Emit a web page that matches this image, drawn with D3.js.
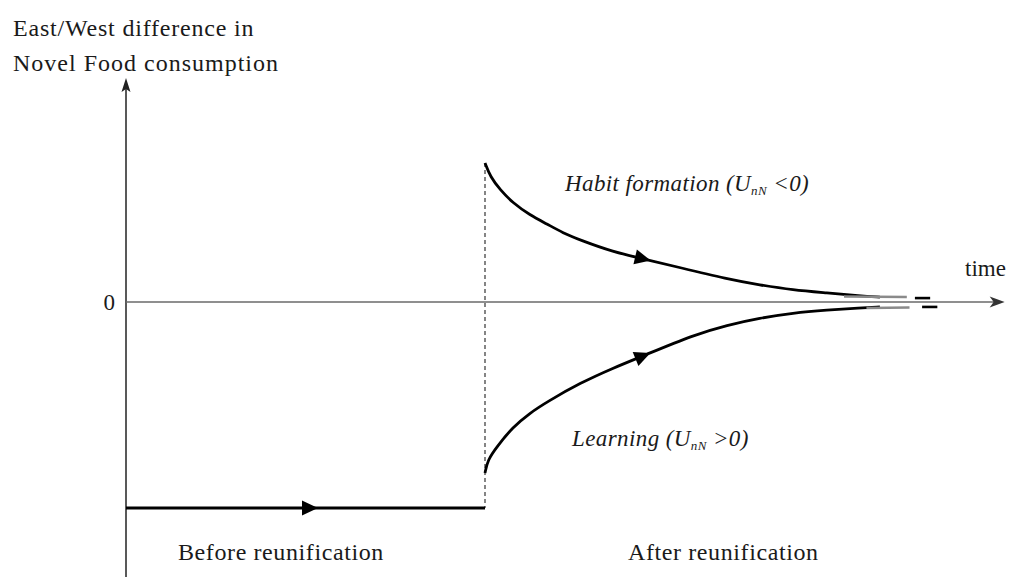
<!DOCTYPE html>
<html>
<head>
<meta charset="utf-8">
<script src="https://cdn.jsdelivr.net/npm/d3@7"></script>
<style>
  body { margin: 0; background: #fff; }
  svg { display: block; }
  text { font-family: "Liberation Serif", "DejaVu Serif", serif; fill: #1a1a1a; }
</style>
</head>
<body>
<svg width="1010" height="577"></svg>
<script>
// time runs 0..10, reunification at t = 4; value 0 = no East/West gap
var reunifT = 4;
var axisEndT = 9.79;
var axisTopV = 1.087, axisBottomV = -1.335;

var beforeT = [0, 4];
var beforeV = [-1, -1];

var habitT = [4.0, 4.06, 4.17, 4.31, 4.50, 4.69, 4.87, 5.06, 5.43, 5.76, 6.17, 6.70, 7.06, 7.43, 7.81, 8.18, 8.40];
var habitV = [0.675, 0.607, 0.544, 0.481, 0.422, 0.379, 0.335, 0.301, 0.243, 0.210, 0.167, 0.112, 0.083, 0.058, 0.044, 0.029, 0.024];
var habitTailT = [8.0, 8.70];
var habitTailV = [0.027, 0.024];
var habitDashT = [8.79, 8.96];
var habitDashV = [0.019, 0.019];

var learnT = [4.0, 4.03, 4.13, 4.31, 4.50, 4.69, 5.06, 5.43, 5.76, 6.32, 6.70, 7.06, 7.43, 7.81, 8.18, 8.40];
var learnV = [-0.830, -0.767, -0.704, -0.607, -0.539, -0.485, -0.393, -0.320, -0.262, -0.160, -0.112, -0.078, -0.053, -0.039, -0.029, -0.024];
var learnTailT = [8.25, 8.73];
var learnTailV = [-0.029, -0.027];
var learnDashT = [8.87, 9.04];
var learnDashV = [-0.024, -0.024];

var zeroTicks = [0];

var svg = d3.select("svg");

var x = d3.scaleLinear().domain([0, 10]).range([126, 1023.5]);
var y = d3.scaleLinear().domain([-1, 0]).range([508, 302]);

var line = d3.line()
  .x(function(d) { return x(d[0]); })
  .y(function(d) { return y(d[1]); })
  .curve(d3.curveBasis);

var straight = d3.line()
  .x(function(d) { return x(d[0]); })
  .y(function(d) { return y(d[1]); });

function pts(ts, vs) { return ts.map(function(t, i) { return [t, vs[i]]; }); }

// arrow marks sit on a point of a series and follow its direction
var arrowMarks = [
  { ts: beforeT, vs: beforeV, t: 2.05 },
  { ts: habitT, vs: habitV, t: 5.76 },
  { ts: learnT, vs: learnV, t: 5.76 }
];

// axes
svg.append("line")
  .attr("x1", x(0)).attr("x2", x(0))
  .attr("y1", y(axisBottomV)).attr("y2", y(axisTopV) + 6)
  .attr("stroke", "#222").attr("stroke-width", 1.5);
svg.append("path")
  .attr("d", "M" + x(0) + "," + y(axisTopV) + " l-4.5,14 l4.5,-3 l4.5,3 z")
  .attr("fill", "#222");

svg.append("line")
  .attr("x1", x(0)).attr("x2", x(axisEndT) - 6)
  .attr("y1", y(0)).attr("y2", y(0))
  .attr("stroke", "#6a6a6a").attr("stroke-width", 1.6);
svg.append("path")
  .attr("d", "M" + x(axisEndT) + "," + y(0) + " l-15,-5.5 l4,5.5 l-4,5.5 z")
  .attr("fill", "#333");

svg.append("g")
  .attr("transform", "translate(" + x(0) + ",0)")
  .call(d3.axisLeft(y).tickValues(zeroTicks).tickSize(0).tickPadding(11).tickFormat(d3.format("d")))
  .call(function(g) { g.select(".domain").remove(); })
  .selectAll("text")
  .attr("font-size", 23)
  .attr("font-family", "Liberation Serif, serif")
  .attr("fill", "#1a1a1a");

// reunification jump
svg.append("line")
  .attr("x1", x(reunifT)).attr("x2", x(reunifT))
  .attr("y1", y(habitV[0])).attr("y2", y(beforeV[1]))
  .attr("stroke", "#444").attr("stroke-width", 1.3)
  .attr("stroke-dasharray", "4,3");

// paths
svg.append("path").attr("d", line(pts(beforeT, beforeV)))
  .attr("fill", "none").attr("stroke", "#000").attr("stroke-width", 3);
svg.append("path").attr("d", line(pts(habitT, habitV)))
  .attr("fill", "none").attr("stroke", "#000").attr("stroke-width", 2.8);
svg.append("path").attr("d", line(pts(learnT, learnV)))
  .attr("fill", "none").attr("stroke", "#000").attr("stroke-width", 2.8);

[[habitTailT, habitTailV], [learnTailT, learnTailV]].forEach(function(s) {
  svg.append("path").attr("d", straight(pts(s[0], s[1])))
    .attr("fill", "none").attr("stroke", "#8a8a8a").attr("stroke-width", 2.6);
});
[[habitDashT, habitDashV], [learnDashT, learnDashV]].forEach(function(s) {
  svg.append("path").attr("d", straight(pts(s[0], s[1])))
    .attr("fill", "none").attr("stroke", "#000").attr("stroke-width", 2.6);
});

// direction arrows
arrowMarks.forEach(function(a) {
  var i = d3.minIndex(a.ts, function(t) { return Math.abs(t - a.t); });
  var i0 = Math.max(0, i - 1), i1 = Math.min(a.ts.length - 1, i + 1);
  var ang = Math.atan2(y(a.vs[i1]) - y(a.vs[i0]), x(a.ts[i1]) - x(a.ts[i0])) * 180 / Math.PI;
  svg.append("path")
    .attr("d", "M8,0 L-8,-7.5 L-8,7.5 Z")
    .attr("transform", "translate(" + x(a.t) + "," + y(a.vs[i]) + ") rotate(" + ang + ")")
    .attr("fill", "#000");
});

// labels
var ylab = svg.append("text").attr("font-size", 24);
ylab.append("tspan").attr("x", 13).attr("y", 36).attr("letter-spacing", 0.8).text("East/West difference in");
ylab.append("tspan").attr("x", 13).attr("y", 71).attr("letter-spacing", 1).text("Novel Food consumption");

svg.append("text").attr("x", 965).attr("y", 276).attr("font-size", 23).text("time");

var hab = svg.append("text").attr("x", 565).attr("y", 191).attr("font-size", 23)
  .attr("font-style", "italic").attr("letter-spacing", 0.4);
hab.append("tspan").text("Habit formation (U");
hab.append("tspan").attr("font-size", 13).attr("dy", 4).text("nN");
hab.append("tspan").attr("dy", -4).text(" <0)");

var lrn = svg.append("text").attr("x", 572).attr("y", 446).attr("font-size", 23)
  .attr("font-style", "italic").attr("letter-spacing", 0.4);
lrn.append("tspan").text("Learning (U");
lrn.append("tspan").attr("font-size", 13).attr("dy", 4).text("nN");
lrn.append("tspan").attr("dy", -4).text(" >0)");

svg.append("text").attr("x", 178).attr("y", 560).attr("font-size", 24).attr("letter-spacing", 0.6).text("Before reunification");
svg.append("text").attr("x", 628).attr("y", 560).attr("font-size", 24).attr("letter-spacing", 0.6).text("After reunification");
</script>
</body>
</html>
